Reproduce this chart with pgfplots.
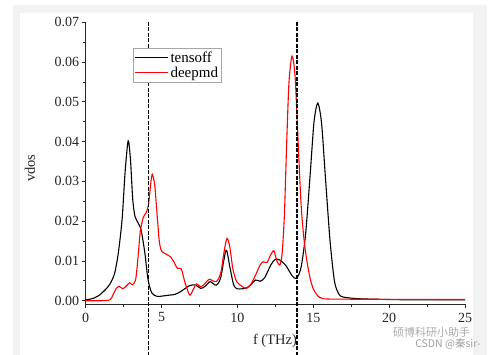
\documentclass[border=0pt]{standalone}
\usepackage{fontspec}
\setmainfont{Liberation Serif}
\newfontfamily\cjk{Noto Sans CJK SC}
\usepackage{pgfplots}
\pgfplotsset{compat=1.18}
\begin{document}
\begin{tikzpicture}
\path[use as bounding box] (-85.7pt,-50.7pt) rectangle (417.3pt,304.3pt);
\fill[gray!10] (-72.7pt,-60pt) rectangle (401.3pt,299.3pt);
\fill[white] (-65.7pt,-60pt) rectangle (387pt,291.6pt);
\begin{axis}[
  at={(0pt,0pt)}, anchor=south west,
  scale only axis, width=379.3pt, height=282pt,
  xmin=0, xmax=25, ymin=-0.0009, ymax=0.07,
  clip=false,
  axis lines=left,
  axis line style={-, black!85, line width=0.8pt},
  xtick={0,5,10,15,20,25},
  ytick={0,0.01,0.02,0.03,0.04,0.05,0.06,0.07},
  minor x tick num=1, minor y tick num=1,
  tick align=outside,
  major tick length=4pt, minor tick length=2.5pt,
  tick style={black!85, line width=0.8pt},
  scaled y ticks=false,
  /pgf/number format/assume math mode=true,
  yticklabel style={/pgf/number format/fixed, /pgf/number format/fixed zerofill, /pgf/number format/precision=2, xshift=1pt},
  tick label style={font=\fontsize{14}{16}\selectfont, text=black!85},
  xticklabel style={yshift=-1pt},
  xlabel={f (THz)}, ylabel={vdos},
  label style={font=\fontsize{14.5}{16}\selectfont, text=black!85},
  xlabel style={at={(axis description cs:0.499,-0.130)}, anchor=center},
  ylabel style={at={(axis description cs:-0.147,0.483)}, anchor=center},
  legend style={at={(axis description cs:0.124,0.909)}, anchor=north west,
    draw=gray!70, fill=white, font=\fontsize{15}{16}\selectfont,
    inner sep=1.5pt, row sep=-1pt},
  legend cell align=left,
  legend image code/.code={\draw[#1, line width=1.1pt] (0pt,0pt) -- (33pt,0pt);},
]
\addplot[black, line width=1.1pt, smooth, tension=0.45] coordinates {
(0,0.0002) (0.5,0.0006) (0.9,0.0014) (1.3,0.0028) (1.6,0.0042) (1.9,0.0068)
(2.15,0.0120) (2.4,0.0205) (2.6,0.0325) (2.8,0.0402) (2.95,0.0355)
(3.1,0.0255) (3.25,0.0212) (3.45,0.0196) (3.65,0.0178) (3.9,0.0120)
(4.1,0.0055) (4.35,0.0020) (4.7,0.0011) (5.1,0.0012) (5.5,0.0014)
(5.9,0.0016) (6.3,0.0024) (6.8,0.0037) (7.2,0.0040) (7.6,0.0031)
(7.9,0.0037) (8.2,0.0048) (8.6,0.0039) (8.9,0.0058) (9.25,0.0127)
(9.5,0.0085) (9.75,0.0040) (10.0,0.0030) (10.5,0.0031) (10.8,0.0037)
(11.2,0.0052) (11.5,0.0049) (11.8,0.0058) (12.2,0.0090) (12.5,0.0104)
(12.8,0.0102) (13.2,0.0088) (13.6,0.0063) (13.9,0.0056) (14.2,0.0085)
(14.5,0.0170) (14.8,0.0320) (15.05,0.0450) (15.3,0.0497) (15.55,0.0445)
(15.8,0.0310) (16.1,0.0153) (16.4,0.0048) (16.7,0.0016) (17.0,0.0009)
(18.0,0.0005) (20,0.0003) (22,0.0002) (25,0.0002)
};
\addlegendentry{tensoff}
\addplot[red, line width=1.1pt, smooth, tension=0.45] coordinates {
(0,0.0000) (1.0,0.0000) (1.6,0.0002) (1.8,0.0015) (2.0,0.0030)
(2.2,0.0036) (2.45,0.0030) (2.7,0.0038) (2.9,0.0045) (3.1,0.0040)
(3.3,0.0055) (3.45,0.0110) (3.6,0.0175) (3.8,0.0210) (4.0,0.0222)
(4.15,0.0245) (4.3,0.0300) (4.4,0.0318) (4.55,0.0290) (4.7,0.0220)
(4.85,0.0150) (5.0,0.0125) (5.3,0.0117) (5.6,0.0110) (5.85,0.0095)
(6.05,0.0081) (6.3,0.0080) (6.55,0.0045) (6.85,0.0014) (7.05,0.0025)
(7.3,0.0042) (7.6,0.0035) (7.9,0.0045) (8.15,0.0054) (8.6,0.0048)
(8.9,0.0070) (9.15,0.0130) (9.32,0.0157) (9.5,0.0135) (9.7,0.0080)
(9.95,0.0048) (10.3,0.0036) (10.6,0.0031) (10.9,0.0042) (11.2,0.0065)
(11.5,0.0090) (11.7,0.0098) (11.95,0.0096) (12.15,0.0112) (12.4,0.0126)
(12.6,0.0100) (12.8,0.0090) (12.95,0.0120) (13.1,0.0220) (13.25,0.0400)
(13.4,0.0550) (13.6,0.0615) (13.8,0.0565) (14.0,0.0400) (14.2,0.0240)
(14.4,0.0150) (14.6,0.0095) (14.8,0.0055) (15.0,0.0030) (15.3,0.0012)
(15.6,0.0006) (16.5,0.0004) (25,0.0003)
};
\addlegendentry{deepmd}
\addplot[black, line width=1.7pt, dash pattern=on 4pt off 1.5pt, forget plot] coordinates {(4.13,0.0702) (4.13,-0.0145)};
\addplot[black, line width=1.7pt, dash pattern=on 4pt off 1.5pt, forget plot] coordinates {(13.92,0.0702) (13.92,-0.0145)};
\end{axis}
\node[text=gray!65, font=\cjk\fontsize{11}{12}\selectfont] at (346pt,-28.5pt) {硕博科研小助手};
\node[text=gray!75, font=\cjk\fontsize{10.5}{12}\selectfont] at (362.3pt,-40pt) {CSDN @秦sir-};
\end{tikzpicture}
\end{document}
